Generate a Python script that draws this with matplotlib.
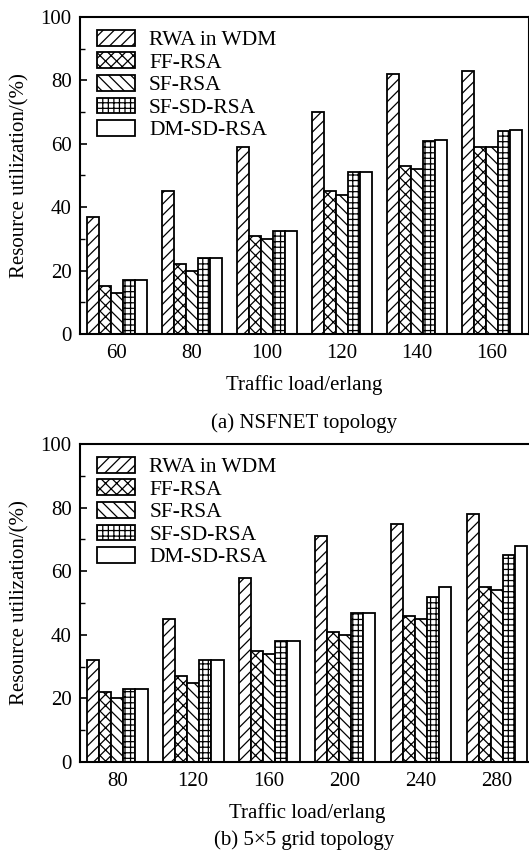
import matplotlib
matplotlib.use("Agg")
from matplotlib import pyplot as plt
import numpy as np

plt.rcParams['font.family'] = ['Liberation Serif', 'DejaVu Serif']
plt.rcParams['hatch.linewidth'] = 0.9

series = ['RWA in WDM', 'FF-RSA', 'SF-RSA', 'SF-SD-RSA', 'DM-SD-RSA']
hatches = ['///', 'xxx', '\\\\\\', '+++', '']

loads_a = ['60', '80', '100', '120', '140', '160']
rwa_a = [37, 45, 59, 70, 82, 83]
ff_a = [15, 22, 31, 45, 53, 59]
sf_a = [13, 20, 30, 44, 52, 59]
sfsd_a = [17, 24, 32.4, 51, 61, 64]
dmsd_a = [17, 24, 32.4, 51, 61.2, 64.5]

loads_b = ['80', '120', '160', '200', '240', '280']
rwa_b = [32, 45, 58, 71, 75, 78]
ff_b = [22, 27, 35, 41, 46, 55]
sf_b = [20, 25, 34, 40, 45, 54]
sfsd_b = [23, 32, 38, 47, 52, 65]
dmsd_b = [23, 32, 38, 47, 55, 68]

W, H = 529, 861
fig = plt.figure(figsize=(W / 100, H / 100), dpi=100)


def panel(rect, loads, data, caption, cap_y):
    ax = fig.add_axes(rect)
    x = np.arange(len(loads))
    bw = 0.16
    for i, vals in enumerate(data):
        ax.bar(x + (i - 2) * bw, vals, bw, color='white', edgecolor='black',
               linewidth=1.3, hatch=hatches[i], label=series[i])
    ax.set_xlim(-0.49, 5.5)
    ax.set_ylim(0, 100)
    ax.set_xticks(x)
    ax.set_xticklabels(loads)
    ax.set_yticks([0, 20, 40, 60, 80, 100])
    ax.set_yticks([10, 30, 50, 70, 90], minor=True)
    ax.tick_params(axis='y', which='major', direction='in', length=5, width=1.2, labelsize=15, pad=6)
    ax.tick_params(axis='y', which='minor', direction='in', length=3.5, width=1.0)
    ax.tick_params(axis='x', length=0, labelsize=15, pad=7)
    for s in ax.spines.values():
        s.set_linewidth(1.5)
    ax.set_xlabel('Traffic load/erlang', fontsize=15, labelpad=9)
    ax.set_ylabel('Resource utilization/(%)', fontsize=15, labelpad=8)
    ax.legend(loc='upper left', frameon=False, fontsize=15.5, handlelength=1.75,
              handleheight=0.75, labelspacing=0.1, handletextpad=0.65,
              borderaxespad=0.2, bbox_to_anchor=(0.01, 1.0))
    fig.text(304 / W, 1 - cap_y / H, caption, ha='center', va='center', fontsize=15)
    return ax


panel([80 / W, 1 - 334 / H, 449 / W, 317 / H], loads_a,
      [rwa_a, ff_a, sf_a, sfsd_a, dmsd_a], '(a) NSFNET topology', 423)
panel([80 / W, 1 - 762 / H, 455 / W, 318 / H], loads_b,
      [rwa_b, ff_b, sf_b, sfsd_b, dmsd_b], '(b) 5×5 grid topology', 840)

fig.savefig('out.png', dpi=100)
